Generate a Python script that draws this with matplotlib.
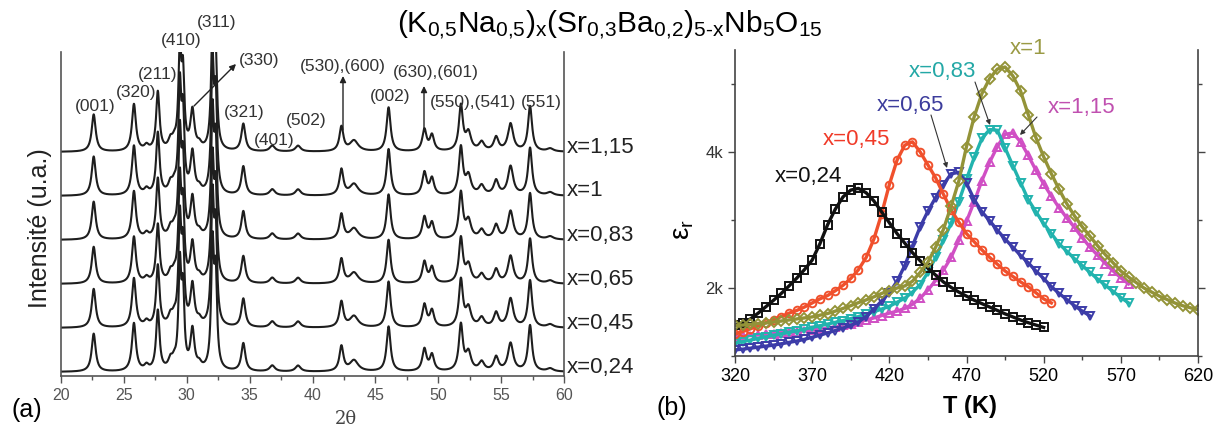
import numpy as np
import matplotlib
matplotlib.use('Agg')
import matplotlib.pyplot as plt
from matplotlib.ticker import MultipleLocator, FixedLocator

plt.rcParams['font.family'] = ['Liberation Sans', 'DejaVu Sans']
plt.rcParams['mathtext.fontset'] = 'custom'

W, H = 1215, 430

# ---- (a) XRD patterns, peak table ----
samples = ['x=0,24', 'x=0,45', 'x=0,65', 'x=0,83', 'x=1', 'x=1,15']
peak_pos = [22.6, 25.8, 26.8, 27.7, 28.7, 29.0, 29.45, 29.7, 30.45, 31.0,
            32.05, 32.3, 34.5, 36.8, 38.85, 42.3, 43.3, 46.05, 48.9, 49.5,
            51.8, 52.4, 53.45, 54.6, 55.75, 57.3, 58.9]
peak_height = [38, 48, 5, 60, 9, 7, 100, 72, 40, 5,
               120, 88, 28, 6, 6, 25, 11, 45, 22, 16,
               46, 18, 9, 14, 28, 46, 3]
peak_fwhm = [0.38, 0.38, 0.4, 0.32, 0.4, 0.4, 0.26, 0.26, 0.38, 0.4,
             0.26, 0.26, 0.38, 0.5, 0.5, 0.38, 0.8, 0.38, 0.4, 0.4,
             0.38, 0.5, 0.5, 0.45, 0.5, 0.38, 0.6]
trace_scale = [1.0, 1.02, 0.97, 1.0, 1.03, 0.98]

peak_labels = ['(001)', '(320)', '(211)', '(410)', '(311)', '(330)', '(321)',
               '(401)', '(502)', '(530),(600)', '(002)', '(630),(601)',
               '(550),(541)', '(551)']

# ---- (b) permittivity vs temperature ----
T_024 = np.arange(320, 521, 5)
eps_024 = [1450, 1490, 1545, 1630, 1725, 1820, 1920, 2030, 2145, 2270, 2410,
           2650, 2930, 3160, 3340, 3440, 3465, 3400, 3280, 3120, 2960, 2800,
           2660, 2520, 2400, 2290, 2190, 2090, 2010, 1940, 1880, 1820, 1770,
           1720, 1670, 1620, 1575, 1530, 1490, 1455, 1420]
T_045 = np.arange(320, 526, 5)
eps_045 = [1320, 1360, 1400, 1445, 1490, 1535, 1580, 1630, 1670, 1720, 1780,
           1840, 1890, 1960, 2040, 2140, 2270, 2450, 2720, 3090, 3520, 3880,
           4100, 4150, 4000, 3810, 3620, 3380, 3150, 2970, 2800, 2680, 2560,
           2450, 2350, 2250, 2170, 2090, 2020, 1930, 1840, 1780]
T_065 = np.arange(320, 551, 5)
eps_065 = [1090, 1100, 1115, 1130, 1145, 1160, 1180, 1200, 1220, 1245, 1275,
           1305, 1340, 1375, 1410, 1450, 1500, 1580, 1690, 1810, 1930, 2100,
           2330, 2620, 2900, 3130, 3330, 3520, 3680, 3700, 3540, 3300, 3120,
           2990, 2850, 2720, 2600, 2480, 2370, 2250, 2140, 2020, 1920, 1830,
           1740, 1660, 1590]
T_083 = np.arange(320, 576, 5)
eps_083 = [1190, 1210, 1235, 1260, 1280, 1305, 1325, 1350, 1370, 1395, 1420,
           1445, 1470, 1495, 1520, 1550, 1580, 1615, 1650, 1690, 1730, 1790,
           1850, 1940, 2050, 2230, 2450, 2700, 2950, 3270, 3600, 3920, 4200,
           4330, 4320, 4060, 3800, 3550, 3300, 3120, 2950, 2800, 2650, 2540,
           2430, 2330, 2230, 2130, 2040, 1950, 1860, 1780]
T_100 = np.arange(320, 621, 5)
eps_100 = [1450, 1455, 1465, 1475, 1485, 1500, 1515, 1530, 1545, 1560, 1575,
           1600, 1625, 1660, 1700, 1740, 1785, 1825, 1870, 1920, 1960, 2000,
           2030, 2100, 2230, 2380, 2600, 2860, 3200, 3570, 4080, 4520, 4860,
           5080, 5220, 5250, 5120, 4900, 4550, 4210, 3930, 3680, 3450, 3240,
           3060, 2900, 2760, 2620, 2490, 2370, 2250, 2160, 2080, 2000, 1940,
           1880, 1830, 1780, 1740, 1710, 1680]
T_115 = np.arange(320, 576, 5)
eps_115 = [1280, 1290, 1300, 1310, 1320, 1330, 1340, 1350, 1360, 1370, 1380,
           1395, 1410, 1430, 1450, 1475, 1500, 1530, 1560, 1595, 1630, 1660,
           1700, 1760, 1850, 1970, 2110, 2260, 2450, 2700, 2980, 3270, 3580,
           3850, 4080, 4260, 4280, 4150, 3950, 3730, 3530, 3350, 3180, 3030,
           2890, 2740, 2600, 2480, 2360, 2250, 2150, 2060]

fig = plt.figure(figsize=(W / 100, H / 100), dpi=100)


def px(x, y):
    return x / W, 1 - y / H


# ---------------- panel (a) ----------------
ax1 = fig.add_axes([61 / W, 54 / H, 503 / W, 324 / H])
tt = np.linspace(20, 60, 4001)
profile = np.zeros_like(tt)
for p, h, w in zip(peak_pos, peak_height, peak_fwhm):
    profile += h / (1 + ((tt - p) / (w / 2)) ** 2)

for i, s in enumerate(trace_scale):
    ax1.plot(tt, 4 + 44 * i + profile * s, color='#1e1e1e', lw=1.5)
    fig.text(*px(567, 367 - 44 * i), samples[i], fontsize=16,
             ha='left', va='center', color='#222')

ax1.set_xlim(20, 60)
ax1.set_ylim(0, 324)
ax1.spines['top'].set_visible(False)
for sp in ['left', 'right', 'bottom']:
    ax1.spines[sp].set_color('#555')
    ax1.spines[sp].set_linewidth(1.2)
ax1.set_yticks([])
ax1.xaxis.set_major_locator(MultipleLocator(5))
ax1.xaxis.set_minor_locator(MultipleLocator(2.5))
ax1.tick_params(axis='x', which='both', direction='out', colors='#555',
                labelsize=11.5, length=5, width=1)
ax1.tick_params(axis='x', which='minor', length=3)

label_px = [(95, 106), (136, 92), (158, 74), (181, 41), (217, 22), (259, 61),
            (244, 113), (274, 141), (306, 121), (343, 67), (390, 96),
            (436, 72), (473, 102), (541, 102)]
for lab, (x, y) in zip(peak_labels, label_px):
    fig.text(*px(x, y), lab, fontsize=12.5, color='#333',
             ha='center', va='center')

arrow_kw = dict(arrowstyle='-|>', color='#222', lw=1, mutation_scale=9,
                shrinkA=0, shrinkB=0)
for (x0, y0), (x1, y1) in [((194, 106), (236, 64)), ((343, 130), (343, 76)),
                           ((424, 130), (424, 86))]:
    ax1.annotate('', xy=(x1, H - y1), xytext=(x0, H - y0),
                 xycoords='figure pixels', textcoords='figure pixels',
                 arrowprops=arrow_kw)

fig.text(*px(40, 228), 'Intensité (u.a.)', rotation=90, fontsize=18,
         ha='center', va='center', color='#222')
fig.text(*px(346, 419), '2θ', fontsize=13, ha='center', va='center',
         color='#444', family='DejaVu Serif')
fig.text(*px(27, 410), '(a)', fontsize=18, ha='center', va='center')

# ---------------- panel (b) ----------------
ax2 = fig.add_axes([735 / W, 74 / H, 463 / W, 306 / H])
series = [
    (T_115, eps_115, '#d04fc4', '^'),
    (T_083, eps_083, '#22b3ae', 'v'),
    (T_065, eps_065, '#3c3ca8', 'v'),
    (T_045, eps_045, '#f0502c', 'o'),
    (T_024, eps_024, '#111111', 's'),
    (T_100, eps_100, '#939338', 'D'),
]
for T, e, c, m in series:
    ax2.plot(T, e, color=c, lw=2.4, marker=m, ms=5.5, mfc='none', mec=c,
             mew=1.4)

ax2.set_xlim(320, 620)
ax2.set_ylim(1000, 5500)
ax2.spines['top'].set_visible(False)
for sp in ['left', 'right', 'bottom']:
    ax2.spines[sp].set_color('#444')
    ax2.spines[sp].set_linewidth(1.2)
ax2.xaxis.set_major_locator(FixedLocator(range(320, 621, 50)))
ax2.xaxis.set_minor_locator(FixedLocator(range(345, 621, 50)))
ax2.yaxis.set_major_locator(FixedLocator([2000, 4000]))
ax2.yaxis.set_minor_locator(FixedLocator([1000, 3000, 5000]))
ax2.set_yticklabels(['2k', '4k'])
ax2.tick_params(which='both', direction='out', right=True, labelsize=13,
                color='#444', length=5, width=1)
ax2.tick_params(which='minor', length=3)
ax2.tick_params(axis='y', labelsize=12, labelcolor='#333')

b_labels = [('x=0,24', '#111111', (808, 177)), ('x=0,45', '#f03a28', (856, 139)),
            ('x=0,65', '#3c3c9c', (910, 105)), ('x=0,83', '#24a8a6', (942, 71)),
            ('x=1', '#9a9a44', (1028, 48)), ('x=1,15', '#c050b0', (1082, 108))]
for txt, c, (x, y) in b_labels:
    fig.text(*px(x, y), txt, fontsize=16, color=c, ha='center', va='center')

thin_kw = dict(arrowstyle='-|>', color='#333', lw=0.8, mutation_scale=7,
               shrinkA=0, shrinkB=0)
for (x0, y0), (x1, y1) in [((931, 115), (947, 168)), ((975, 82), (990, 125)),
                           ((1037, 117), (1020, 135))]:
    ax2.annotate('', xy=(x1, H - y1), xytext=(x0, H - y0),
                 xycoords='figure pixels', textcoords='figure pixels',
                 arrowprops=thin_kw)

fig.text(*px(683, 230), r'$\mathregular{ε_r}$', rotation=90, fontsize=20,
         ha='center', va='center')
fig.text(*px(970, 407), 'T (K)', fontsize=17, weight='bold',
         ha='center', va='center')
fig.text(*px(672, 408), '(b)', fontsize=18, ha='center', va='center')

# ---------------- title ----------------
fig.text(*px(610, 25),
         r'$\mathregular{(K_{0{,}5}Na_{0{,}5})_x(Sr_{0{,}3}Ba_{0{,}2})_{5‐x}Nb_5O_{15}}$',
         fontsize=21.5, ha='center', va='center')

fig.savefig('out.png', dpi=100)
